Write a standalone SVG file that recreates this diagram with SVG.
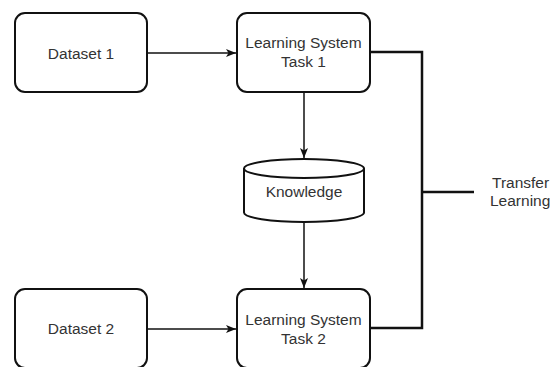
<svg xmlns="http://www.w3.org/2000/svg" width="550" height="367" viewBox="0 0 550 367">
<defs>
<style>
.box{fill:#fff;stroke:#111;stroke-width:2}
.lbl{font-family:"Liberation Sans",Arial,sans-serif;font-size:15.5px;fill:#333;text-anchor:middle}
.conn{fill:none;stroke:#111;stroke-width:1.5}
.thick{fill:none;stroke:#111;stroke-width:2.5}
</style>
<marker id="arr" viewBox="0 0 10 10" refX="10" refY="5" markerWidth="10" markerHeight="10" markerUnits="userSpaceOnUse" orient="auto">
<path d="M0,1 L10,5 L0,9 L2.5,5 Z" fill="#111"/>
</marker>
</defs>
<rect width="550" height="367" fill="#fff"/>
<g id="connectors">
<line class="conn" x1="148" y1="53" x2="236" y2="53" marker-end="url(#arr)"/>
<line class="conn" x1="304" y1="93" x2="304" y2="158" marker-end="url(#arr)"/>
<line class="conn" x1="304" y1="222" x2="304" y2="288" marker-end="url(#arr)"/>
<line class="conn" x1="148" y1="329" x2="236" y2="329" marker-end="url(#arr)"/>
<polyline class="thick" points="371,52 422,52 422,328 371,328"/>
<line class="thick" x1="422" y1="192" x2="474" y2="192"/>
</g>
<g id="dataset1">
<rect class="box" x="15" y="13" width="132" height="79" rx="10"/>
<text class="lbl" x="81" y="58.5">Dataset 1</text>
</g>
<g id="task1">
<rect class="box" x="237" y="13" width="133" height="79" rx="10"/>
<text class="lbl" x="303.5" y="48">Learning System</text>
<text class="lbl" x="303.5" y="67">Task 1</text>
</g>
<g id="knowledge">
<path class="box" d="M244,168.5 A60,9.5 0 0 1 364,168.5 L364,212.5 A60,9.5 0 0 1 244,212.5 Z"/>
<path class="box" style="fill:none" d="M244,168.5 A60,9.5 0 0 0 364,168.5"/>
<text class="lbl" x="304" y="196.5">Knowledge</text>
</g>
<g id="dataset2">
<rect class="box" x="15" y="289" width="132" height="79" rx="10"/>
<text class="lbl" x="81" y="334">Dataset 2</text>
</g>
<g id="task2">
<rect class="box" x="237" y="289" width="133" height="79" rx="10"/>
<text class="lbl" x="303.5" y="325">Learning System</text>
<text class="lbl" x="303.5" y="344">Task 2</text>
</g>
<g id="transfer">
<text class="lbl" style="text-anchor:start" x="492" y="187.5">Transfer</text>
<text class="lbl" style="text-anchor:start" x="490" y="205.5">Learning</text>
</g>
</svg>
